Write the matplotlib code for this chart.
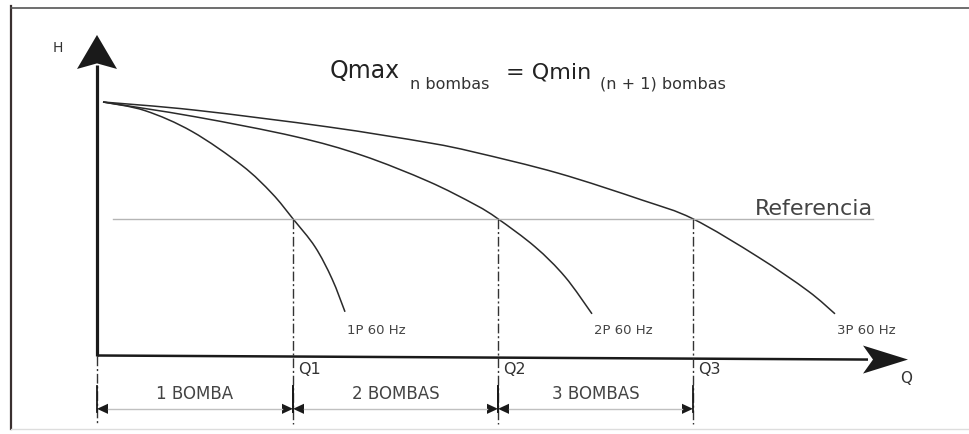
import matplotlib
matplotlib.use("Agg")
import matplotlib.pyplot as plt
from matplotlib.path import Path
from matplotlib.patches import PathPatch

# ---------------- data (Q = caudal, H = altura) ----------------
q_1p = [0.06, 0.48, 0.95, 1.45, 1.75, 1.96, 2.18, 2.35, 2.48]
h_1p = [50.0, 48.3, 44.2, 37.5, 32.0, 27.0, 21.5, 15.2, 8.7]

q_2p = [0.06, 0.98, 1.98, 2.65, 3.31, 3.78, 4.01, 4.38, 4.68, 4.95]
h_2p = [50.0, 47.1, 43.2, 39.5, 34.4, 29.8, 27.0, 21.5, 15.6, 8.3]

q_3p = [0.06, 0.98, 2.31, 3.31, 3.78, 4.61, 5.45, 5.96, 6.61, 7.11, 7.38]
h_3p = [50.0, 48.4, 45.1, 42.0, 40.1, 36.0, 30.7, 27.0, 19.5, 12.8, 8.3]

curve_labels = ["1P 60 Hz", "2P 60 Hz", "3P 60 Hz"]
q_points = [1.96, 4.01, 5.96]
q_labels = ["Q1", "Q2", "Q3"]
h_ref = 27.0
range_labels = ["1 BOMBA", "2 BOMBAS", "3 BOMBAS"]

# ---------------- layout ----------------
W, H = 970, 435
PX_Q, PX_H = 100.0, 5.08          # pixels per data unit
ORIG_X, ORIG_Y = 97, 357          # pixel position of origin (from top-left)

fig = plt.figure(figsize=(W / 100, H / 100), dpi=100)
ax = fig.add_axes([0, 0, 1, 1])
ax.set_xlim(-ORIG_X / PX_Q, (W - ORIG_X) / PX_Q)
ax.set_ylim(-(H - ORIG_Y) / PX_H, ORIG_Y / PX_H)
ax.axis("off")

plt.rcParams["font.family"] = ["DejaVu Sans"]
dark = "#1a1a1a"
txt = "#333333"


def smooth_path(xs, ys):
    """Smooth path through the read points (Catmull-Rom as cubic Bezier)."""
    pts = list(zip(xs, ys))
    n = len(pts)
    verts = [pts[0]]
    codes = [Path.MOVETO]
    for i in range(n - 1):
        p0 = pts[max(i - 1, 0)]
        p1 = pts[i]
        p2 = pts[i + 1]
        p3 = pts[min(i + 2, n - 1)]
        c1 = (p1[0] + (p2[0] - p0[0]) / 6, p1[1] + (p2[1] - p0[1]) / 6)
        c2 = (p2[0] - (p3[0] - p1[0]) / 6, p2[1] - (p3[1] - p1[1]) / 6)
        verts += [c1, c2, p2]
        codes += [Path.CURVE4] * 3
    return Path(verts, codes)


# frame
fig.add_artist(plt.Line2D([11 / W, 11 / W], [1 - 7 / H, 1 - 430 / H],
                          transform=fig.transFigure, color="#3a3030", lw=1.6))
fig.add_artist(plt.Line2D([11 / W, 1], [1 - 9 / H, 1 - 9 / H],
                          transform=fig.transFigure, color="#555555", lw=1.2))
fig.add_artist(plt.Line2D([11 / W, 1], [1 - 430 / H, 1 - 430 / H],
                          transform=fig.transFigure, color="#dddddd", lw=1.0))

# axes with arrow heads
y_tip = 63.2
ax.plot([0, 0], [0, y_tip - 6], color=dark, lw=2.3, solid_capstyle="butt")
ax.fill([0, -0.20, 0, 0.20], [y_tip, y_tip - 6.7, y_tip - 5.6, y_tip - 6.7],
        color=dark, lw=0)
x_tip, x_tip_h = 8.11, -0.7
ax.plot([0, x_tip - 0.4], [0.1, x_tip_h], color=dark, lw=1.8,
        solid_capstyle="butt")
ax.fill([x_tip, x_tip - 0.45, x_tip - 0.35, x_tip - 0.45],
        [x_tip_h, x_tip_h + 2.76, x_tip_h, x_tip_h - 2.76], color=dark, lw=0)

ax.text(-0.39, 60.8, "H", fontsize=10, color=txt, ha="center", va="center")
ax.text(8.09, -4.3, "Q", fontsize=11, color=txt, ha="center", va="center")

# reference line
ax.plot([0.16, 7.76], [h_ref, h_ref], color="#b5b5b5", lw=1.0)
ax.text(6.58, 28.0, "Referencia", fontsize=16, color="#444444",
        ha="left", va="baseline")

# pump curves
for q, h, lab in zip([q_1p, q_2p, q_3p], [h_1p, h_2p, h_3p], curve_labels):
    ax.add_patch(PathPatch(smooth_path(q, h), facecolor="none",
                           edgecolor="#2a2a2a", lw=1.1))
    ax.text(q[-1] + 0.02, 5.3, lab, fontsize=9.5, color="#444444",
            ha="left", va="center")

# vertical dash-dot lines
dd = (0, (7, 2, 1.5, 2))
ax.plot([0, 0], [0, -13.4], color=txt, lw=1.0, ls=dd)
for q, lab in zip(q_points, q_labels):
    ax.plot([q, q], [h_ref, -13.4], color=txt, lw=1.0, ls=dd)
    ax.text(q + 0.05, -2.4, lab, fontsize=11.5, color=txt,
            ha="left", va="center")

# range dimension lines
bounds = [0.0] + q_points
y_dim = -10.4
for a, b, lab in zip(bounds[:-1], bounds[1:], range_labels):
    for q in (a, b):
        ax.plot([q, q], [-5.9, -11.0], color=dark, lw=1.3)
    ax.plot([a + 0.11, b - 0.11], [y_dim, y_dim], color="#c0c0c0", lw=1.0)
    ax.fill([a, a + 0.11, a + 0.11], [y_dim, y_dim + 1.0, y_dim - 1.0],
            color=dark, lw=0)
    ax.fill([b, b - 0.11, b - 0.11], [y_dim, y_dim + 1.0, y_dim - 1.0],
            color=dark, lw=0)
    ax.text((a + b) / 2, -7.3, lab, fontsize=12, color="#444444",
            ha="center", va="center")

# title formula
ax.text(2.33, 54.9, "Qmax", fontsize=17, color="#222222", ha="left",
        va="baseline")
ax.text(3.13, 52.8, "n bombas", fontsize=11.5, color="#333333", ha="left",
        va="baseline")
ax.text(4.09, 54.9, "= Qmin", fontsize=16, color="#222222", ha="left",
        va="baseline")
ax.text(5.03, 52.8, "(n + 1) bombas", fontsize=11.5, color="#333333",
        ha="left", va="baseline")

fig.savefig("out.png", dpi=100, facecolor="white")
